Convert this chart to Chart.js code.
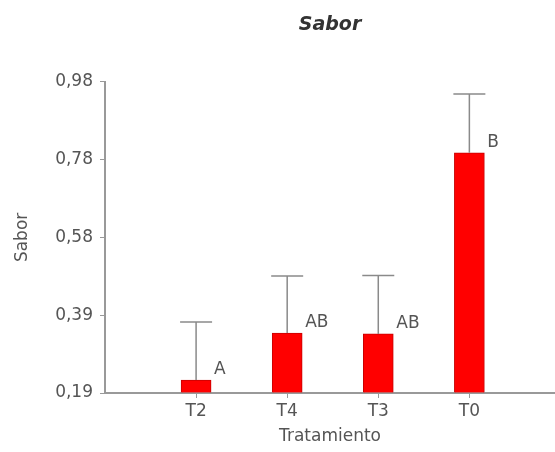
<!DOCTYPE html>
<html>
<head>
<meta charset="utf-8">
<script src="https://cdn.jsdelivr.net/npm/chart.js@4/dist/chart.umd.min.js"></script>
<style>
  html, body { margin: 0; padding: 0; background: #fff; }
  #wrap { width: 555px; height: 452px; }
</style>
</head>
<body>
<div id="wrap"><canvas id="saborChart"></canvas></div>
<script>
  // datos
  const tratamientos = ['T2', 'T4', 'T3', 'T0'];
  const medias = [0.223, 0.342, 0.340, 0.800];
  const errores = [0.147, 0.145, 0.148, 0.149];   // barra de error (solo hacia arriba)
  const letras = ['A', 'AB', 'AB', 'B'];
  const yTicks = [0.19, 0.3875, 0.585, 0.7825, 0.98];
  const yTickLabels = ['0,19', '0,39', '0,58', '0,78', '0,98'];

  Chart.defaults.font.family = "'DejaVu Sans', sans-serif";
  Chart.defaults.font.size = 17;
  Chart.defaults.color = '#555';

  const errorBars = {
    id: 'errorBars',
    afterDatasetsDraw(chart) {
      const { ctx, scales: { x, y } } = chart;
      ctx.save();
      ctx.strokeStyle = '#8a8a8a';
      ctx.lineWidth = 1.5;
      ctx.fillStyle = '#555';
      ctx.font = "17px 'DejaVu Sans', sans-serif";
      ctx.textBaseline = 'alphabetic';
      medias.forEach((m, i) => {
        const px = x.getPixelForValue(i);
        const yBar = y.getPixelForValue(m);
        const yTop = y.getPixelForValue(m + errores[i]);
        ctx.beginPath();
        ctx.moveTo(px, yBar);
        ctx.lineTo(px, yTop);
        ctx.moveTo(px - 16, yTop);
        ctx.lineTo(px + 16, yTop);
        ctx.stroke();
        ctx.fillText(letras[i], px + 18, yBar - 6);
      });
      ctx.restore();
    }
  };

  new Chart(document.getElementById('saborChart'), {
    type: 'bar',
    data: {
      datasets: [{
        label: 'Sabor',
        data: medias.map((v, i) => ({ x: i, y: v })),
        backgroundColor: '#ff0000',
        borderColor: '#c80000',
        borderWidth: 1,
        borderSkipped: 'bottom',
        barThickness: 30,
        base: 0.19
      }]
    },
    options: {
      responsive: true,
      maintainAspectRatio: false,
      animation: false,
      layout: { padding: 0 },
      scales: {
        x: {
          type: 'linear',
          offset: false,
          min: -1,
          max: 3.94,
          afterBuildTicks: s => { s.ticks = tratamientos.map((t, i) => ({ value: i })); },
          afterFit: s => { s.height = 59; },
          ticks: {
            padding: 3,
            callback: v => tratamientos[v]
          },
          grid: { offset: false, drawOnChartArea: false, tickLength: 5, color: '#999' },
          border: { color: '#999', width: 2 },
          title: {
            display: true,
            text: 'Tratamiento',
            padding: { top: 0, bottom: 5 }
          }
        },
        y: {
          min: 0.19,
          max: 0.98,
          afterBuildTicks: s => { s.ticks = yTicks.map(v => ({ value: v })); },
          afterFit: s => { s.width = 105; },
          ticks: {
            padding: 7,
            callback: (v, i) => yTickLabels[i]
          },
          grid: { drawOnChartArea: false, tickLength: 5, color: '#999' },
          border: { color: '#999', width: 2 },
          title: {
            display: true,
            text: 'Sabor',
            padding: { top: 12, bottom: 0 }
          }
        }
      },
      plugins: {
        legend: { display: false },
        tooltip: { enabled: false },
        title: {
          display: true,
          text: 'Sabor',
          fullSize: false,
          color: '#333',
          font: { size: 19, weight: 'bold', style: 'italic' },
          padding: { top: 14, bottom: 45 }
        }
      }
    },
    plugins: [errorBars]
  });
</script>
</body>
</html>
